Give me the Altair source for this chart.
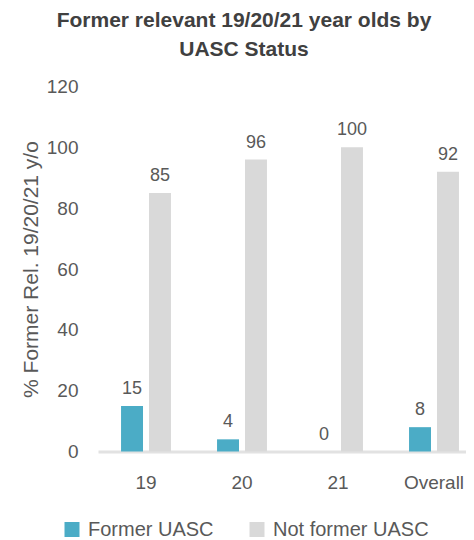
import altair as alt
import pandas as pd

categories = ["19", "20", "21", "Overall"]
former_uasc = [15, 4, 0, 8]
not_former_uasc = [85, 96, 100, 92]
series = ["Former UASC", "Not former UASC"]
colors = ["#4BACC6", "#D9D9D9"]
y_ticks = [0, 20, 40, 60, 80, 100, 120]

rows = []
for c, a, b in zip(categories, former_uasc, not_former_uasc):
    rows.append({"age": c, "status": series[0], "pct": a})
    rows.append({"age": c, "status": series[1], "pct": b})
df = pd.DataFrame(rows)

FONT = "Liberation Sans"
TXT = "#595959"

x_enc = alt.X(
    "age:N",
    sort=categories,
    scale=alt.Scale(domain=categories, range=[0, 384], paddingInner=0.48, paddingOuter=0.24),
    axis=alt.Axis(
        title=None, labelAngle=0, ticks=False, labelPadding=22,
        labelFontSize=19, labelColor=TXT, labelFont=FONT,
        domainColor="#E2E2E2", domainWidth=3,
    ),
)
xo_enc = alt.XOffset(
    "status:N", sort=series,
    scale=alt.Scale(domain=series, paddingInner=0.214, paddingOuter=0),
)
y_enc = alt.Y(
    "pct:Q",
    scale=alt.Scale(domain=[0, 120], nice=False, zero=True),
    axis=alt.Axis(
        values=y_ticks, grid=False, domain=False, ticks=False,
        labelPadding=20, labelFontSize=19, labelColor=TXT, labelFont=FONT,
        title="% Former Rel. 19/20/21 y/o", titleFontSize=21, titleColor=TXT,
        titleFont=FONT, titleFontWeight="normal", titlePadding=5,
    ),
)

bars = alt.Chart(df).mark_bar().encode(
    x=x_enc,
    xOffset=xo_enc,
    y=y_enc,
    color=alt.Color(
        "status:N", sort=series,
        scale=alt.Scale(domain=series, range=colors),
        legend=alt.Legend(
            title=None, orient="none", direction="horizontal",
            legendX=-36, legendY=433,
            symbolType="square", symbolSize=225, symbolStrokeWidth=0,
            labelFontSize=20, labelColor=TXT, labelFont=FONT,
            labelOffset=6, columnPadding=33,
        ),
    ),
)

labels = alt.Chart(df).mark_text(
    baseline="alphabetic", dy=-12, fontSize=18, color=TXT, font=FONT
).encode(
    x=x_enc,
    xOffset=xo_enc,
    y=y_enc,
    text=alt.Text("pct:Q"),
)

chart = alt.layer(bars, labels).properties(
    width=368,
    height=365,
    autosize=alt.AutoSizeParams(type="none"),
    padding={"left": 90, "top": 78.5, "right": 0, "bottom": 88.5},
    title=alt.TitleParams(
        text=["Former relevant 19/20/21 year olds by", "UASC Status"],
        fontSize=21, fontWeight="bold", color="#404040", font=FONT,
        lineHeight=29, anchor="middle", dx=-38, offset=18,
    ),
).configure_view(stroke=None)

chart.save("out.html", embed_options={"renderer": "svg", "actions": False})
